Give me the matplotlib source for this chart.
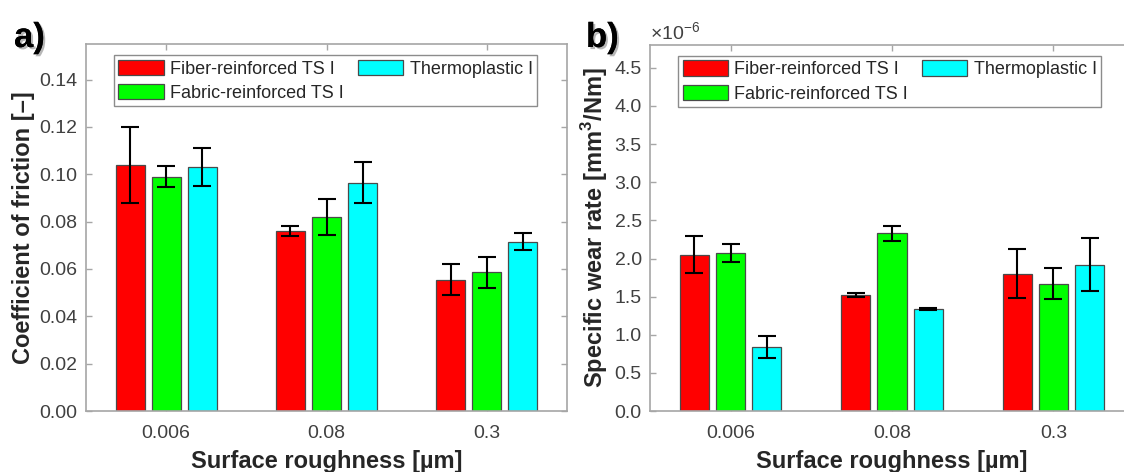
import matplotlib
matplotlib.use('Agg')
import matplotlib.pyplot as plt
import matplotlib.patheffects as pe
import numpy as np

plt.rcParams['font.family'] = ['Liberation Sans', 'DejaVu Sans']
plt.rcParams['mathtext.fontset'] = 'custom'
plt.rcParams['mathtext.rm'] = 'Liberation Sans'
plt.rcParams['mathtext.bf'] = 'Liberation Sans:bold'

# data
roughness = ['0.006', '0.08', '0.3']
materials = ['Fiber-reinforced TS I', 'Fabric-reinforced TS I', 'Thermoplastic I']
colors = ['#ff0000', '#00ff00', '#00ffff']

cof_fiber = [0.104, 0.076, 0.0555]
cof_fabric = [0.099, 0.082, 0.0585]
cof_thermo = [0.103, 0.0965, 0.0715]
cof_fiber_err = [0.016, 0.002, 0.0065]
cof_fabric_err = [0.0045, 0.0075, 0.0065]
cof_thermo_err = [0.008, 0.0085, 0.0035]

# specific wear rate, units of 1e-6 mm^3/Nm
wear_fiber = [2.05, 1.52, 1.80]
wear_fabric = [2.07, 2.33, 1.67]
wear_thermo = [0.84, 1.34, 1.92]
wear_fiber_err = [0.24, 0.03, 0.32]
wear_fabric_err = [0.12, 0.10, 0.20]
wear_thermo_err = [0.15, 0.01, 0.35]

W, H = 1124, 472
fig = plt.figure(figsize=(W / 100, H / 100), dpi=100)
ax1 = fig.add_axes([86 / W, 1 - 411 / H, 481 / W, 367 / H])
ax2 = fig.add_axes([650 / W, 1 - 411 / H, 484 / W, 366 / H])

x = np.arange(1, len(roughness) + 1)
offsets = [-0.225, 0, 0.225]
axis_grey = '#a6a6a6'
text_grey = '#404040'


def draw(ax, vals, errs, ylim, yticks, yfmt, ylabel):
    handles = []
    for v, e, off, c, lab in zip(vals, errs, offsets, colors, materials):
        b = ax.bar(x + off, v, width=0.18, color=c, edgecolor='#4a4a4a',
                   linewidth=0.9, label=lab, zorder=2)
        ax.errorbar(x + off, v, yerr=e, fmt='none', ecolor='black',
                    elinewidth=1.5, capsize=6.5, capthick=1.5, zorder=3)
        handles.append(b)
    ax.set_xlim(0.5, 3.5)
    ax.set_ylim(*ylim)
    ax.set_xticks(x)
    ax.set_xticklabels(roughness)
    ax.set_yticks(yticks)
    ax.set_yticklabels([yfmt.format(t) for t in yticks])
    for s in ax.spines.values():
        s.set_color(axis_grey)
        s.set_linewidth(1.2)
    ax.tick_params(direction='in', length=4, width=1, color=axis_grey,
                   labelsize=14, labelcolor=text_grey, top=True, right=True)
    ax.tick_params(axis='x', pad=10)
    ax.tick_params(axis='y', pad=6)
    ax.set_xlabel('Surface roughness [µm]', fontsize=17, fontweight='bold',
                  color='#262626', labelpad=6)
    ax.set_ylabel(ylabel, fontsize=17, fontweight='bold', color='#262626', labelpad=3)
    leg = ax.legend([handles[0], handles[1], handles[2]],
                    [materials[0], materials[1], materials[2]],
                    ncol=2, loc='upper left', bbox_to_anchor=(0.058, 0.97),
                    borderaxespad=0, fontsize=13, handlelength=2.5, handleheight=0.95,
                    handletextpad=0.35, columnspacing=0.8, labelspacing=0.35,
                    borderpad=0.25, fancybox=False, framealpha=1)
    leg.get_frame().set_edgecolor('#8c8c8c')
    leg.get_frame().set_linewidth(1)
    for t in leg.get_texts():
        t.set_color('#262626')


draw(ax1, [cof_fiber, cof_fabric, cof_thermo],
     [cof_fiber_err, cof_fabric_err, cof_thermo_err],
     (0, 0.155), np.arange(0, 0.141, 0.02), '{:.2f}', 'Coefficient of friction [–]')
draw(ax2, [wear_fiber, wear_fabric, wear_thermo],
     [wear_fiber_err, wear_fabric_err, wear_thermo_err],
     (0, 4.8), np.arange(0, 4.51, 0.5), '{:.1f}',
     r'Specific wear rate [mm$^{\mathbf{3}}$/Nm]')

ax2.text(0.0, 1.003, r'$\times$10$^{-6}$', transform=ax2.transAxes, fontsize=14,
         color=text_grey, ha='left', va='bottom')

shadow = [pe.withSimplePatchShadow(offset=(1.5, -1.5), shadow_rgbFace='#888888', alpha=0.6),
          pe.Normal()]
fig.text(14 / W, 1 - 47 / H, 'a)', fontsize=25, fontweight='bold', color='black',
         path_effects=shadow)
fig.text(586 / W, 1 - 47 / H, 'b)', fontsize=25, fontweight='bold', color='black',
         path_effects=shadow)

fig.savefig('out.png', dpi=100)
